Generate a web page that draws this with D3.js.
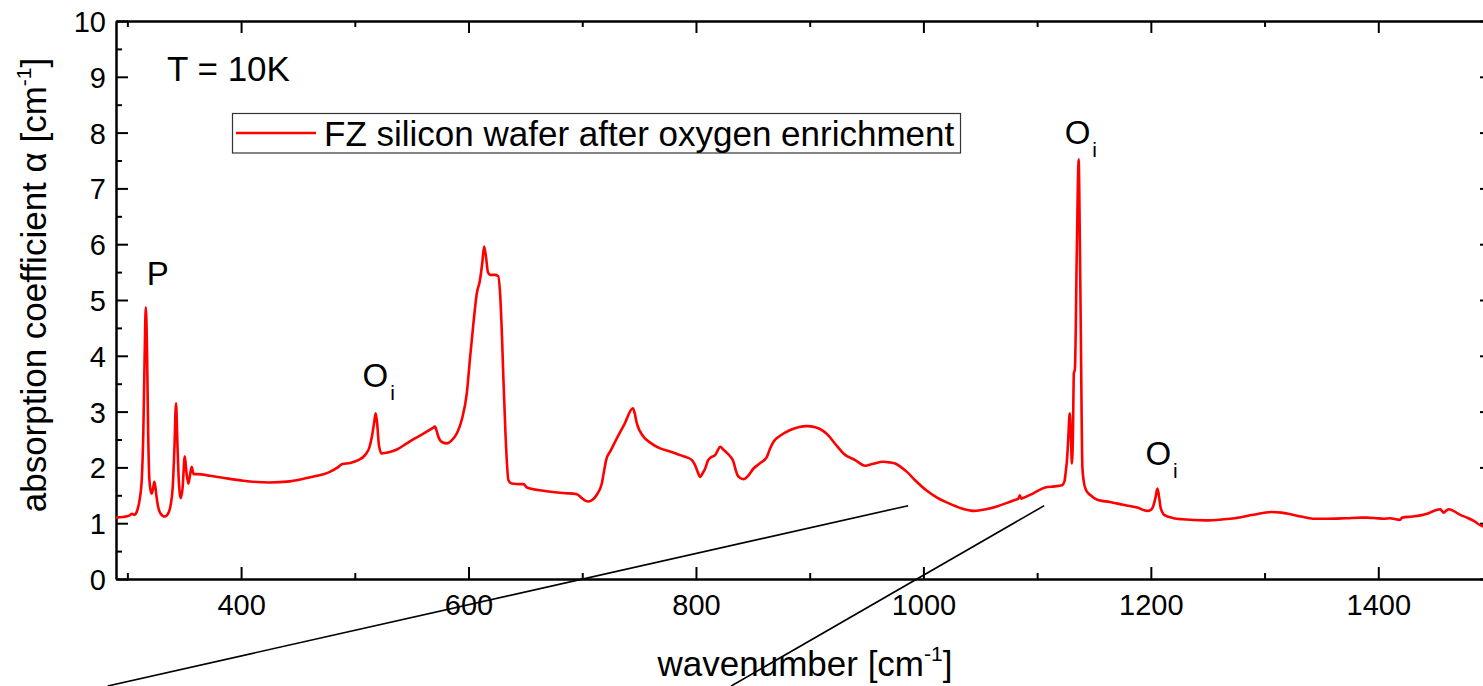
<!DOCTYPE html>
<html>
<head>
<meta charset="utf-8">
<script src="https://cdn.jsdelivr.net/npm/d3@7/dist/d3.min.js"></script>
<style>
  html, body { margin: 0; padding: 0; background: #fff; }
  svg { display: block; font-family: "Liberation Sans", Arial, sans-serif; }
</style>
</head>
<body>
<svg id="chart" width="1483" height="686"></svg>
<script>
// IR absorption spectrum of an oxygen-enriched FZ silicon wafer at 10 K
const wavenumber = [
  290, 296, 302, 304, 306, 309, 311, 312.7, 314, 315.2, 316.2, 317.2, 318.3, 319.3, 320.5, 321.4,
  322.6, 323.7, 324.6, 325.5, 327, 329, 333, 336, 338, 339.9, 341.3, 342.8, 343.9, 345, 346, 347,
  348.5, 350.5, 352, 353.6, 355, 356.6, 358.2, 362, 372.7, 385, 402, 425, 443, 460, 478, 485, 489,
  496, 503, 509, 513, 515, 517, 518.3, 519.6, 521.2, 523.5, 530, 537, 545, 552, 560, 568, 570.5,
  572, 574, 577, 581, 585, 590, 594, 598.5, 601.5, 604.3, 607.3, 610, 612, 613.7, 615.5, 617, 619,
  623, 626, 627.8, 629.5, 630.7, 632.5, 635.1, 638, 646, 648.3, 651.3, 665.9, 683.5, 695.2, 699.6,
  703, 705.5, 709, 712.8, 717.2, 719.3, 721, 725, 730.4, 737, 744.5, 746, 748, 753.9, 760, 768.5,
  778, 786.1, 792, 796.4, 799, 801.5, 803.7, 806, 808.1, 810.5, 812.5, 816.9, 819, 821.3, 824,
  827.2, 830, 833, 835, 836.5, 839, 841.8, 845, 850.6, 856, 862.4, 865, 868.2, 875, 882.9, 890,
  897.5, 905, 912.1, 917, 920.9, 925, 929.7, 940, 948.8, 955, 964.9, 970, 975.2, 980, 985.5, 992.7,
  1002.5, 1012, 1022, 1033, 1044.9, 1055, 1064.6, 1073, 1080.9, 1083.5, 1084.8, 1086, 1087.5, 1097,
  1107.1, 1115, 1121.8, 1124, 1125, 1126.5, 1127.3, 1128.7, 1129.8, 1130.6, 1131.5, 1132.3, 1133.2,
  1134, 1134.6, 1135.6, 1136.5, 1137.5, 1138.5, 1139.2, 1139.8, 1141, 1143.1, 1147, 1152.9, 1164,
  1175.7, 1188, 1197, 1200, 1202, 1204, 1205.8, 1207.4, 1208.4, 1210, 1211.7, 1220, 1228, 1247.6,
  1264, 1273.8, 1290, 1306, 1315, 1322.9, 1332, 1342.5, 1355, 1372, 1385, 1390, 1398, 1404.7, 1410,
  1419, 1421, 1430, 1437, 1443, 1448.8, 1454.6, 1457.5, 1460, 1462, 1466, 1472.1, 1478, 1484, 1490,
  1494, 1500
];
const alpha = [
  1.10, 1.11, 1.14, 1.17, 1.15, 1.25, 1.45, 1.80, 2.60, 4.00, 4.87, 4.20, 2.60, 1.80, 1.58, 1.53,
  1.62, 1.74, 1.65, 1.50, 1.30, 1.18, 1.12, 1.18, 1.32, 1.65, 2.30, 3.15, 2.50, 1.85, 1.55, 1.45,
  1.62, 2.20, 1.90, 1.71, 1.85, 2.01, 1.88, 1.88, 1.85, 1.81, 1.76, 1.73, 1.75, 1.82, 1.92, 2.00, 2.06,
  2.08, 2.13, 2.22, 2.37, 2.55, 2.80, 2.97, 2.80, 2.40, 2.25, 2.27, 2.32, 2.42, 2.51, 2.60, 2.70, 2.73,
  2.65, 2.52, 2.45, 2.43, 2.48, 2.62, 2.85, 3.33, 4.00, 4.58, 5.12, 5.35, 5.65, 5.96, 5.75, 5.50, 5.45,
  5.45, 5.43, 5.10, 4.30, 3.57, 2.60, 1.77, 1.71, 1.70, 1.70, 1.64, 1.58, 1.54, 1.52, 1.45,
  1.40, 1.39, 1.42, 1.51, 1.71, 1.95, 2.13, 2.30, 2.52, 2.77, 3.06, 2.98, 2.79, 2.55, 2.44, 2.34,
  2.28, 2.22, 2.18, 2.13, 2.05, 1.92, 1.83, 1.90, 1.98, 2.12, 2.17, 2.22, 2.30, 2.37, 2.32,
  2.26, 2.20, 2.10, 1.95, 1.86, 1.81, 1.79, 1.83, 1.98, 2.07, 2.19, 2.33, 2.46, 2.58, 2.67, 2.72,
  2.74, 2.72, 2.65, 2.56, 2.46, 2.36, 2.25, 2.13, 2.03, 2.06, 2.10, 2.09, 2.07, 2.01, 1.92, 1.77,
  1.59, 1.46, 1.36, 1.27, 1.22, 1.25, 1.30, 1.36, 1.42, 1.44, 1.50, 1.44, 1.45, 1.54,
  1.64, 1.66, 1.68, 1.75, 1.89, 2.20, 2.49, 2.97, 2.50, 2.07, 2.60, 3.69, 3.75,
  4.50, 5.48, 6.80, 7.52, 6.20, 4.28, 2.80, 2.01, 1.75, 1.59, 1.50, 1.42, 1.38,
  1.33, 1.28, 1.22, 1.24, 1.30, 1.45, 1.62, 1.45, 1.30, 1.20, 1.15, 1.09, 1.07, 1.05,
  1.07, 1.09, 1.15, 1.20, 1.19, 1.16, 1.12, 1.08, 1.08, 1.09, 1.10, 1.10, 1.09, 1.08, 1.09,
  1.06, 1.10, 1.12, 1.14, 1.17, 1.22, 1.25, 1.19, 1.23, 1.25, 1.22, 1.15, 1.10, 1.04, 0.96,
  0.93, 0.90
];

// Axis ticks
const xMajorTicks = [400, 600, 800, 1000, 1200, 1400];
const xMinorTicks = [300, 500, 700, 900, 1100, 1300, 1500];
const yMajorTicks = [0, 1, 2, 3, 4, 5, 6, 7, 8, 9, 10];
const yMinorTicks = [0.5, 1.5, 2.5, 3.5, 4.5, 5.5, 6.5, 7.5, 8.5, 9.5];

// Peak assignments: label text, subscript, wavenumber and alpha of the peak
const peakLabels = ["P", "O", "O", "O"];
const peakSubs = ["", "i", "i", "i"];
const peakWavenumbers = [316.2, 518.3, 1136.5, 1205.8];
const peakAlphas = [4.87, 2.97, 7.52, 1.62];

// Two straight guide lines, endpoints in data units [wavenumber, alpha]
const guideStarts = [[282.6, -1.918], [831.0, -1.918]];
const guideEnds = [[986.6, 1.314], [1106.2, 1.314]];

const seriesName = "FZ silicon wafer after oxygen enrichment";
const tempLabel = "T = 10K";

const svg = d3.select("#chart");
const plotLeft = 116, plotRight = 1492, plotTop = 21, plotBottom = 579;

const x = d3.scaleLinear().domain([290, 1500]).range([plotLeft, plotRight]);
const y = d3.scaleLinear().domain([0, 10]).range([plotBottom, plotTop]);

const axisStroke = 2;
function styleAxis(g) {
  g.select(".domain").attr("stroke", "#000").attr("stroke-width", axisStroke);
  g.selectAll(".tick line").attr("stroke", "#000").attr("stroke-width", axisStroke);
}

// Minor ticks (drawn first)
svg.append("g").attr("transform", `translate(0,${plotBottom})`)
  .call(d3.axisBottom(x).tickValues(xMinorTicks).tickSize(-6).tickSizeOuter(0).tickFormat(""))
  .call(styleAxis);
svg.append("g").attr("transform", `translate(0,${plotTop})`)
  .call(d3.axisTop(x).tickValues(xMinorTicks).tickSize(-6).tickSizeOuter(0).tickFormat(""))
  .call(styleAxis);
svg.append("g").attr("transform", `translate(${plotLeft},0)`)
  .call(d3.axisLeft(y).tickValues(yMinorTicks).tickSize(-6).tickSizeOuter(0).tickFormat(""))
  .call(styleAxis);
svg.append("g").attr("transform", `translate(${plotRight},0)`)
  .call(d3.axisRight(y).tickValues(yMinorTicks).tickSize(-6).tickSizeOuter(0).tickFormat(""))
  .call(styleAxis);

// Major ticks with labels on bottom and left
const xAxis = svg.append("g").attr("transform", `translate(0,${plotBottom})`)
  .call(d3.axisBottom(x).tickValues(xMajorTicks).tickSize(-12).tickSizeOuter(0).tickFormat(d3.format("d")))
  .call(styleAxis);
xAxis.selectAll(".tick text")
  .attr("y", 36).attr("dy", null)
  .attr("font-size", 29).attr("font-family", "Liberation Sans, Arial, sans-serif").attr("fill", "#000");

const yAxis = svg.append("g").attr("transform", `translate(${plotLeft},0)`)
  .call(d3.axisLeft(y).tickValues(yMajorTicks).tickSize(-12).tickSizeOuter(0).tickFormat(d3.format("d")))
  .call(styleAxis);
yAxis.selectAll(".tick text")
  .attr("x", -10).attr("dy", null).attr("y", 10.5)
  .attr("font-size", 29).attr("font-family", "Liberation Sans, Arial, sans-serif").attr("fill", "#000");

svg.append("g").attr("transform", `translate(0,${plotTop})`)
  .call(d3.axisTop(x).tickValues(xMajorTicks).tickSize(-12).tickSizeOuter(0).tickFormat(""))
  .call(styleAxis);
svg.append("g").attr("transform", `translate(${plotRight},0)`)
  .call(d3.axisRight(y).tickValues(yMajorTicks).tickSize(-12).tickSizeOuter(0).tickFormat(""))
  .call(styleAxis);

// Spectrum
const points = wavenumber.map((w, i) => [w, alpha[i]]);
svg.append("defs").append("clipPath").attr("id", "plotClip")
  .append("rect").attr("x", plotLeft).attr("y", plotTop)
  .attr("width", plotRight - plotLeft).attr("height", plotBottom - plotTop);

svg.append("path")
  .datum(points)
  .attr("clip-path", "url(#plotClip)")
  .attr("fill", "none")
  .attr("stroke", "#ff0000")
  .attr("stroke-width", 2.6)
  .attr("stroke-linejoin", "round")
  .attr("d", d3.line().x(d => x(d[0])).y(d => y(d[1])).curve(d3.curveMonotoneX));

// Guide lines
svg.selectAll("line.guide")
  .data(guideStarts.map((s, i) => [s, guideEnds[i]]))
  .join("line")
  .attr("class", "guide")
  .attr("x1", d => x(d[0][0])).attr("y1", d => y(d[0][1]))
  .attr("x2", d => x(d[1][0])).attr("y2", d => y(d[1][1]))
  .attr("stroke", "#000").attr("stroke-width", 1.6);

// Peak labels
const labelOffsets = [[1, -22], [-13, -26], [-14, -15], [-12, -24]];
peakLabels.forEach((t, i) => {
  const tx = svg.append("text")
    .attr("x", x(peakWavenumbers[i]) + labelOffsets[i][0])
    .attr("y", y(peakAlphas[i]) + labelOffsets[i][1])
    .attr("font-size", 33).attr("fill", "#000")
    .text(t);
  if (peakSubs[i]) {
    tx.append("tspan").attr("font-size", 21).attr("dy", 13).attr("dx", 2).text(peakSubs[i]);
  }
});

// Temperature note
svg.append("text").attr("x", 167).attr("y", 80.5).attr("font-size", 35).attr("fill", "#000").text(tempLabel);

// Legend
const legend = svg.append("g");
legend.append("rect").attr("x", 232.5).attr("y", 113.5).attr("width", 728).attr("height", 39.5)
  .attr("fill", "#fff").attr("stroke", "#333").attr("stroke-width", 1.2);
legend.append("line").attr("x1", 236).attr("x2", 316).attr("y1", 133).attr("y2", 133)
  .attr("stroke", "#ff0000").attr("stroke-width", 2.6);
legend.append("text").attr("x", 324).attr("y", 145.5).attr("font-size", 35).attr("fill", "#000").text(seriesName);

// Axis titles
const xt = svg.append("text").attr("x", 805).attr("y", 676).attr("text-anchor", "middle")
  .attr("font-size", 35).attr("fill", "#000").text("wavenumber [cm");
xt.append("tspan").attr("font-size", 21).attr("dy", -15).text("-1");
xt.append("tspan").attr("dy", 15).text("]");

const yt = svg.append("text").attr("transform", "translate(46,285) rotate(-90)").attr("text-anchor", "middle")
  .attr("font-size", 35).attr("fill", "#000").text("absorption coefficient \u03b1 [cm");
yt.append("tspan").attr("font-size", 21).attr("dy", -15).text("-1");
yt.append("tspan").attr("dy", 15).text("]");
</script>
</body>
</html>
